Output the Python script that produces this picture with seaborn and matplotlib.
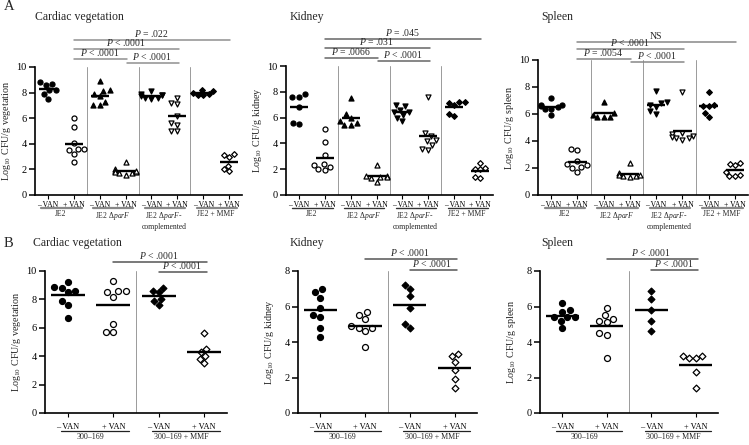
import numpy as np
import matplotlib
matplotlib.use("Agg")
import matplotlib.pyplot as plt
import matplotlib.transforms as mtrans
import seaborn as sns

sns.set_theme(style="ticks")
plt.rcParams['font.family'] = ['Liberation Serif', 'DejaVu Serif']
plt.rcParams['mathtext.fontset'] = 'custom'
plt.rcParams['mathtext.rm'] = 'Liberation Serif'
plt.rcParams['mathtext.it'] = 'Liberation Serif:italic'

W, H = 749, 445

# ---- data (log10 CFU/g) ----
# panel A: JE2 -/+VAN, JE2 dparF -/+VAN, complemented -/+VAN, JE2 + MMF -/+VAN
a_cardiac = [
    [8.7, 8.8, 8.6, 8.2, 8.2, 7.9, 7.5],
    [6.0, 5.3, 4.1, 3.6, 3.5, 3.6, 3.2, 2.6],
    [8.9, 8.1, 7.9, 8.2, 7.7, 7.3, 7.0, 7.0],
    [2.6, 2.0, 1.9, 1.8, 1.7, 1.7, 1.8, 1.9, 1.6],
    [8.1, 7.9, 7.8, 7.7, 7.6, 7.5, 7.6, 7.8],
    [7.6, 7.2, 7.1, 6.2, 5.6, 5.5, 5.0, 5.0],
    [8.2, 8.1, 8.0, 7.9, 7.8, 7.8],
    [3.2, 3.1, 3.0, 2.3, 2.0, 1.9],
]
a_kidney = [
    [7.8, 7.6, 7.6, 6.8, 5.6, 5.5],
    [5.1, 4.1, 3.1, 2.3, 2.2, 2.4, 1.9, 2.0],
    [7.5, 6.3, 6.0, 5.7, 5.4, 5.4, 5.6],
    [2.3, 1.5, 1.5, 1.4, 1.3, 1.0, 1.4],
    [7.0, 6.9, 6.6, 6.4, 6.4, 6.2, 6.0, 5.7],
    [7.6, 4.8, 4.6, 4.3, 4.2, 3.9, 3.6, 3.5],
    [7.2, 7.1, 7.0, 7.2, 6.3, 6.1],
    [2.5, 2.1, 2.0, 2.0, 1.4, 1.3],
]
a_spleen = [
    [7.2, 6.7, 6.6, 6.5, 6.4, 6.4, 6.7, 5.9],
    [3.4, 3.3, 2.5, 2.3, 2.2, 2.1, 2.0, 1.7],
    [6.9, 6.1, 5.9, 5.8, 5.8, 5.8],
    [2.4, 1.6, 1.5, 1.4, 1.4, 1.3, 1.5],
    [7.7, 6.9, 6.8, 6.7, 6.5, 6.2, 6.0],
    [7.6, 4.6, 4.5, 4.4, 4.3, 4.2, 4.1, 4.2],
    [7.6, 6.7, 6.6, 6.6, 6.1, 5.8],
    [2.4, 2.3, 2.2, 1.7, 1.5, 1.4, 1.4],
]
# panel B: 300-169 -/+VAN, 300-169 + MMF -/+VAN
b_cardiac = [
    [9.2, 8.8, 8.9, 8.6, 8.5, 7.9, 7.6, 6.7],
    [9.3, 8.6, 8.6, 8.5, 8.2, 6.3, 5.7, 5.7],
    [8.8, 8.5, 8.6, 8.0, 7.6, 7.9],
    [5.6, 4.5, 4.3, 4.0, 3.8, 3.5],
]
b_kidney = [
    [7.0, 6.8, 6.5, 5.9, 5.5, 5.4, 4.8, 4.3],
    [5.7, 5.5, 5.3, 4.9, 4.8, 4.8, 4.6, 3.7],
    [7.2, 7.0, 6.6, 5.9, 5.0, 4.8],
    [3.3, 3.2, 2.9, 2.4, 1.9, 1.4],
]
b_spleen = [
    [6.2, 5.8, 5.7, 5.4, 5.4, 5.2, 5.4, 4.8],
    [5.9, 5.5, 5.3, 5.2, 5.1, 4.5, 4.4, 3.1],
    [6.9, 6.4, 5.8, 5.2, 4.6],
    [3.2, 3.1, 3.1, 3.2, 2.3, 1.4],
]

a_ticklabels = ['– VAN', '+ VAN'] * 4
a_groups = ['JE2', 'JE2 Δ$parF$', 'JE2 Δ$parF$-\ncomplemented', 'JE2 + MMF']
a_markers = ['o', 'o', '^', '^', 'v', 'v', 'D', 'D']
b_ticklabels = ['– VAN', '+ VAN'] * 2
b_groups = ['300–169', '300–169 + MMF']
b_markers = ['o', 'o', 'D', 'D']

# comparisons: (group i, group j, label)
a_cardiac_p = [(1, 7, '$P$ = .022'), (1, 5, '$P$ < .0001'), (1, 3, '$P$ < .0001'), (3, 5, '$P$ < .0001')]
a_kidney_p = [(1, 7, '$P$ = .045'), (1, 5, '$P$ = .031'), (1, 3, '$P$ = .0066'), (3, 5, '$P$ < .0001')]
a_spleen_p = [(1, 7, 'NS'), (1, 5, '$P$ < .0001'), (1, 3, '$P$ = .0054'), (3, 5, '$P$ < .0001')]
b_p = [(1, 3, '$P$ < .0001'), (2, 3, '$P$ < .0001')]


def px_rect(l, t, r, b):
    return [l / W, 1 - b / H, (r - l) / W, (b - t) / H]


def draw_panel(fig, rect, values, markers, ticklabels, groups, ymax, ylabel,
               title, comps, comp_y, comp_color, big=False, under_color='#888888',
               under_lw=1.6):
    ax = fig.add_axes(px_rect(*rect))
    n = len(values)
    msize = 4.3 if big else 3.6
    for i, vals in enumerate(values):
        filled = (i % 2 == 0)
        m = markers[i]
        size = msize * (0.8 if m == 'D' else 1.0)
        sns.swarmplot(x=np.full(len(vals), i), y=vals, native_scale=True,
                      orient='x', ax=ax, marker=m,
                      color='black' if filled else 'white',
                      edgecolor='black', linewidth=0.9, size=size, zorder=3)
        half = 0.37 if big else 0.35
        ax.hlines(np.mean(vals), i - half, i + half, color='black', lw=1.7, zorder=4)

    for k in range(1, n // 2):
        ax.axvline(2 * k - 0.5, color='#9a9a9a', lw=0.7, zorder=1)

    ax.set_xlim(-0.5, n - 0.5)
    ax.set_ylim(0, ymax)
    ax.set_yticks(np.arange(0, ymax + 1, 2))
    ax.set_xticks(range(n), ticklabels, fontsize=6 if big else 5.5)
    ax.set_xlabel('')
    sns.despine(ax=ax)
    for s in ['left', 'bottom']:
        ax.spines[s].set_linewidth(1.2)
        ax.spines[s].set_color('black')
    ax.tick_params(axis='y', length=4, width=1.1, labelsize=7.5, pad=2, colors='black')
    ax.tick_params(axis='x', length=3, width=0.8, pad=4 if big else 1.5, colors='black')
    ax.set_ylabel(ylabel, fontsize=7.3)
    ax.yaxis.set_label_coords(-22 / (rect[2] - rect[0]), 0.5)

    tr = mtrans.blended_transform_factory(ax.transData, fig.transFigure)
    # group underlines and names
    uy = rect[3] + (17.5 if big else 13)
    gy = rect[3] + (20 if big else 15.5)
    for k, g in enumerate(groups):
        x0, x1 = (2 * k - 0.15, 2 * k + 1.35) if big else (2 * k - 0.25, 2 * k + 1.3)
        ax.plot([x0, x1], [1 - uy / H] * 2, transform=tr, clip_on=False,
                color=under_color, lw=under_lw)
        ax.text(2 * k + 0.5, 1 - gy / H, g, transform=tr, ha='center', va='top',
                fontsize=5.8 if big else 5.5, linespacing=1.05)

    # significance lines
    for (i, j, lab), yp in zip(comps, comp_y):
        x0 = i + 0.05 if i == 3 else i
        ax.plot([x0, j + 0.05], [1 - yp / H] * 2, transform=tr, clip_on=False,
                color=comp_color, lw=1.1)
        ax.text((x0 + j) / 2, 1 - (yp - 1) / H, lab, transform=tr, ha='center',
                va='bottom', fontsize=7)

    fig.text(title[1] / W, 1 - title[2] / H, title[0], fontsize=8.5,
             ha='left', va='center')
    return ax


fig = plt.figure(figsize=(W / 100, H / 100), dpi=100)

fig.text(4 / W, 1 - 7 / H, 'A', fontsize=10.5, va='center')
fig.text(4 / W, 1 - 243 / H, 'B', fontsize=10.5, va='center')

draw_panel(fig, (35, 67, 242, 195), a_cardiac, a_markers, a_ticklabels, a_groups, 10,
           'Log$_{10}$ CFU/g vegetation', ('Cardiac vegetation', 35, 17),
           a_cardiac_p, [40, 49, 59, 63], '#8f8f8f')
draw_panel(fig, (286, 66, 493, 195), a_kidney, a_markers, a_ticklabels, a_groups, 10,
           'Log$_{10}$ CFU/g kidney', ('Kidney', 290, 17),
           a_kidney_p, [39, 48, 58, 61], '#666666', under_color='#333333', under_lw=1.0)
draw_panel(fig, (538, 60, 748, 195), a_spleen, a_markers, a_ticklabels, a_groups, 10,
           'Log$_{10}$ CFU/g spleen', ('Spleen', 541, 17),
           a_spleen_p, [42, 49, 59, 62], '#888888')

draw_panel(fig, (45, 271, 227, 413), b_cardiac, b_markers, b_ticklabels, b_groups, 10,
           'Log$_{10}$ CFU/g vegetation', ('Cardiac vegetation', 33, 243),
           b_p, [262, 272], '#555555', big=True, under_color='#222222', under_lw=0.9)
draw_panel(fig, (298, 271, 477, 413), b_kidney, b_markers, b_ticklabels, b_groups, 8,
           'Log$_{10}$ CFU/g kidney', ('Kidney', 290, 243),
           b_p, [259, 270], '#555555', big=True, under_color='#222222', under_lw=0.9)
draw_panel(fig, (540, 271, 718, 413), b_spleen, b_markers, b_ticklabels, b_groups, 8,
           'Log$_{10}$ CFU/g spleen', ('Spleen', 541, 243),
           b_p, [259, 270], '#555555', big=True, under_color='#222222', under_lw=0.9)

fig.savefig('out.png', dpi=100)
